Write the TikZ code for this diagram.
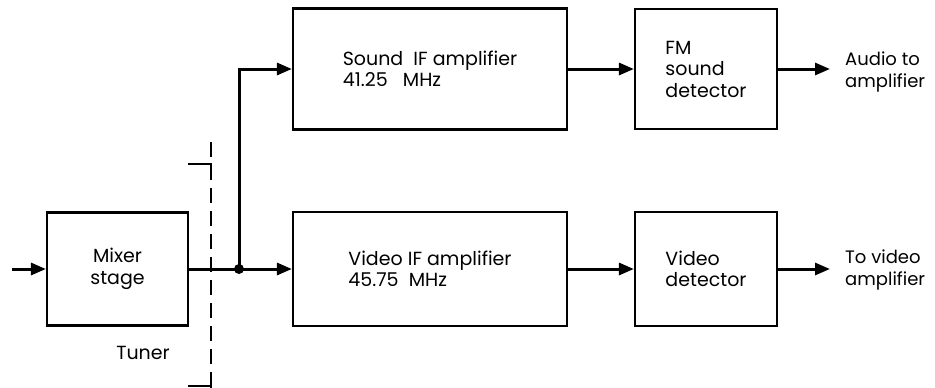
\documentclass[tikz,border=0pt]{standalone}
\usepackage{fontspec}
\setmainfont{Poppins}
\usepackage{tikz}
\usetikzlibrary{positioning, arrows.meta, calc}

\begin{document}
\begin{tikzpicture}[
  x=1pt, y=-1pt,
  >=Stealth,
  block/.style={draw, line width=2.2pt, align=left, font=\fontsize{19}{21.5}\selectfont, inner sep=0pt},
  arrow/.style={-{Triangle[length=15pt, width=12pt]}, line width=3pt},
  label/.style={font=\fontsize{18}{21.5}\selectfont, align=left, anchor=west, inner sep=0pt},
]
\useasboundingbox (0,0) rectangle (935,388);

% ================= blocks =================
\node[block, align=center, minimum width=141pt, minimum height=113pt] (mixer) at (117.5, 269) {Mixer\\stage};
\node[block, minimum width=274pt, minimum height=121pt] (sound_if) at (430, 69) {Sound\ \ IF amplifier\\41.25\ \ \ MHz};
\node[block, minimum width=274pt, minimum height=114pt] (video_if) at (430, 269) {Video IF amplifier\\45.75\ \ MHz};
\node[block, minimum width=142pt, minimum height=120pt] (fm_det) at (706, 69) {FM\\sound\\detector};
\node[block, minimum width=142pt, minimum height=114pt] (video_det) at (706, 269) {Video\\detector};

% outputs
\node[label] (audio_out) at (845, 72) {Audio to\\amplifier};
\node[label] (video_out) at (845, 270) {To video\\amplifier};
\node[label, font=\fontsize{19}{21.5}\selectfont, anchor=center] (tuner) at (143, 353) {Tuner};

% ================= connections =================
\coordinate (input) at (12, 269);
\coordinate (split) at (239, 269);
\draw[arrow] (input) -- (mixer.west);
\draw[arrow] (mixer.east) -- (video_if.west);
\draw[arrow] (split) |- (sound_if.west);
\fill (split) circle (5pt);
\draw[arrow] (sound_if.east) -- (fm_det.west);
\draw[arrow] (video_if.east) -- (video_det.west);
\draw[arrow] (fm_det.east) -- ([xshift=-15pt]audio_out.west |- fm_det.east);
\draw[arrow] (video_det.east) -- ([xshift=-15pt]video_out.west |- video_det.east);

% ================= tuner boundary =================
\coordinate (tuner_top) at (211, 164);
\coordinate (tuner_bot) at (211, 386);
\draw[line width=2pt] ([xshift=-23pt]tuner_top) -- (tuner_top) -- ++(0,14);
\draw[line width=2pt, dash pattern=on 15pt off 8pt] ([yshift=22pt]tuner_top) -- ([yshift=-14pt]tuner_bot);
\draw[line width=2pt] ([yshift=-14pt]tuner_bot) -- (tuner_bot) -- ++(-23,0);

\end{tikzpicture}
\end{document}
